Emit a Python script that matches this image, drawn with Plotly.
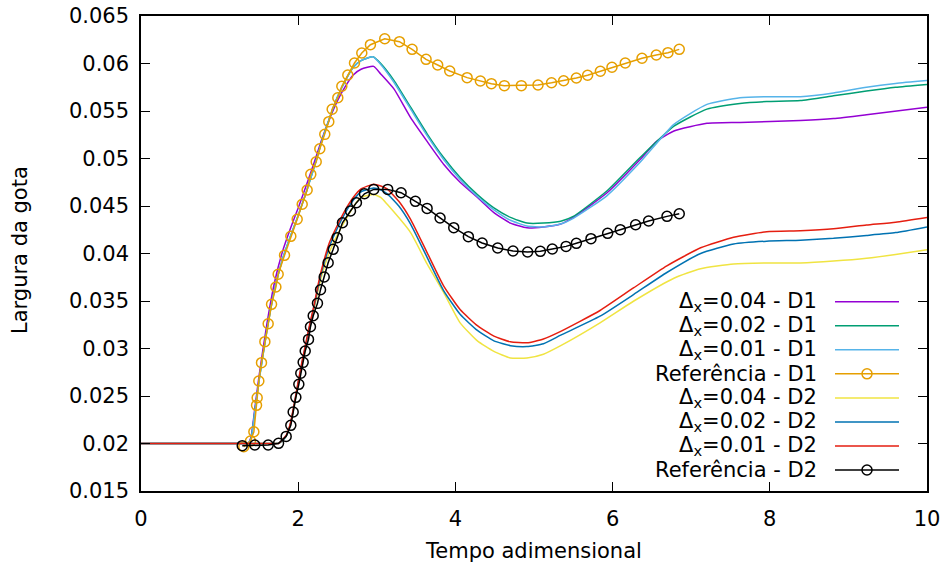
import plotly.graph_objects as go

# ---------------- data ----------------
# Simulations, drop D1
t_d1_004 = [0, 1.30, 1.36, 1.40, 1.45, 1.50, 1.60, 1.70, 1.80, 1.90, 2.00, 2.10, 2.20, 2.30, 2.40, 2.50,
            2.60, 2.70, 2.80, 2.96, 3.05, 3.22, 3.43, 3.64, 3.85, 4.06, 4.28, 4.49, 4.70, 4.91,
            5.12, 5.34, 5.50, 5.93, 6.35, 6.56, 6.78, 7.20, 7.62, 8.39, 8.81, 9.23, 10.0]
w_d1_004 = [0.0200, 0.0200, 0.0200, 0.0207, 0.0238, 0.0270, 0.0325, 0.0370, 0.0402, 0.0426, 0.0448, 0.0471,
            0.0495, 0.0520, 0.0542, 0.0561, 0.0576, 0.0588, 0.0594, 0.0597, 0.0589, 0.0573, 0.0543,
            0.0518, 0.0494, 0.0475, 0.0459, 0.0443, 0.0432, 0.0427, 0.0428, 0.0431, 0.0438, 0.0464,
            0.0499, 0.0518, 0.0529, 0.0537, 0.0538, 0.0540, 0.0542, 0.0546, 0.0554]

t_d1_002 = [0, 1.30, 1.36, 1.40, 1.45, 1.50, 1.60, 1.70, 1.80, 1.90, 2.00, 2.10, 2.20, 2.30, 2.40, 2.50,
            2.60, 2.70, 2.80, 2.95, 3.05, 3.22, 3.43, 3.64, 3.85, 4.06, 4.28, 4.49, 4.70, 4.91,
            5.12, 5.34, 5.50, 5.93, 6.35, 6.78, 7.20, 7.62, 7.96, 8.39, 8.81, 9.23, 9.60, 10.0]
w_d1_002 = [0.0200, 0.0200, 0.0200, 0.0205, 0.0235, 0.0265, 0.0318, 0.0362, 0.0394, 0.0418, 0.0440, 0.0464,
            0.0490, 0.0518, 0.0543, 0.0565, 0.0582, 0.0596, 0.0603, 0.0607, 0.0600, 0.0582, 0.0554,
            0.0526, 0.0501, 0.0480, 0.0462, 0.0448, 0.0438, 0.0432, 0.0432, 0.0434, 0.0439, 0.0466,
            0.0501, 0.0534, 0.0552, 0.0558, 0.0560, 0.0561, 0.0566, 0.0571, 0.0575, 0.0578]

t_d1_001 = [0, 1.30, 1.36, 1.40, 1.45, 1.50, 1.60, 1.70, 1.80, 1.90, 2.00, 2.10, 2.20, 2.30, 2.40, 2.50,
            2.60, 2.70, 2.80, 2.95, 3.05, 3.22, 3.43, 3.64, 3.85, 4.06, 4.28, 4.49, 4.70, 4.91,
            5.12, 5.34, 5.50, 5.93, 6.35, 6.78, 7.20, 7.62, 7.96, 8.39, 8.81, 9.23, 9.60, 10.0]
w_d1_001 = [0.0200, 0.0200, 0.0200, 0.0205, 0.0235, 0.0265, 0.0318, 0.0362, 0.0394, 0.0418, 0.0440, 0.0464,
            0.0490, 0.0518, 0.0543, 0.0565, 0.0582, 0.0596, 0.0603, 0.0607, 0.0599, 0.0580, 0.0552,
            0.0524, 0.0499, 0.0478, 0.0460, 0.0446, 0.0435, 0.0429, 0.0428, 0.0431, 0.0437, 0.0461,
            0.0496, 0.0536, 0.0557, 0.0564, 0.0565, 0.0565, 0.0569, 0.0575, 0.0579, 0.0582]

# Reference solution, drop D1
t_ref_d1 = [1.308, 1.393, 1.436, 1.470, 1.478, 1.499, 1.533, 1.576, 1.618, 1.661, 1.716, 1.745,
            1.826, 1.906, 1.987, 2.051, 2.114, 2.160, 2.229, 2.275, 2.338, 2.389, 2.432, 2.504,
            2.555, 2.631, 2.716, 2.809, 2.919, 3.101, 3.288, 3.449, 3.627, 3.775, 3.928, 4.149,
            4.318, 4.458, 4.623, 4.839, 5.051, 5.223, 5.377, 5.539, 5.682, 5.844, 5.992, 6.161,
            6.374, 6.556, 6.704, 6.848]
w_ref_d1 = [0.01966, 0.02026, 0.02124, 0.02402, 0.02482, 0.02658, 0.02851, 0.03072, 0.03261,
            0.03465, 0.03647, 0.03781, 0.03981, 0.04181, 0.04360, 0.04518, 0.04668, 0.04833,
            0.04966, 0.05103, 0.05254, 0.05388, 0.05518, 0.05640, 0.05760, 0.05879, 0.06005,
            0.06110, 0.06198, 0.06261, 0.06230, 0.06149, 0.06044, 0.05984, 0.05921, 0.05851,
            0.05816, 0.05788, 0.05767, 0.05767, 0.05774, 0.05797, 0.05819, 0.05847, 0.05876,
            0.05918, 0.05960, 0.06005, 0.06055, 0.06089, 0.06114, 0.06149]

# Simulations, drop D2
t_d2_004 = [0, 1.68, 1.75, 1.80, 1.85, 1.90, 1.95, 2.00, 2.05, 2.10, 2.15, 2.20, 2.25, 2.30, 2.40, 2.50,
            2.60, 2.70, 2.80, 2.96, 3.05, 3.13, 3.43, 3.64, 3.85, 4.06, 4.28, 4.49, 4.70, 4.91,
            5.12, 5.34, 5.84, 6.27, 6.78, 7.12, 7.54, 7.96, 8.39, 8.81, 9.23, 9.60, 10.0]
w_d2_004 = [0.0200, 0.0200, 0.0200, 0.0203, 0.0208, 0.0220, 0.0240, 0.0263, 0.0283, 0.0302, 0.0323, 0.0341,
            0.0360, 0.0377, 0.0402, 0.0420, 0.0435, 0.0449, 0.0459, 0.0462, 0.0459, 0.0452, 0.0422,
            0.0389, 0.0359, 0.0327, 0.0308, 0.0297, 0.0290, 0.0290, 0.0294, 0.0303, 0.0327, 0.0350,
            0.0374, 0.0384, 0.0389, 0.0390, 0.0390, 0.0392, 0.0395, 0.0399, 0.0404]

t_d2_002 = [0, 1.68, 1.75, 1.80, 1.85, 1.90, 1.95, 2.00, 2.05, 2.10, 2.15, 2.20, 2.25, 2.30, 2.40, 2.50,
            2.60, 2.70, 2.80, 2.96, 3.05, 3.13, 3.28, 3.43, 3.64, 3.85, 4.06, 4.28, 4.49, 4.70,
            4.91, 5.12, 5.34, 5.84, 6.27, 6.69, 7.12, 7.54, 7.96, 8.39, 8.81, 9.23, 9.60, 10.0]
w_d2_002 = [0.0200, 0.0200, 0.0200, 0.0203, 0.0208, 0.0220, 0.0241, 0.0264, 0.0285, 0.0305, 0.0325, 0.0343,
            0.0363, 0.0381, 0.0408, 0.0427, 0.0443, 0.0456, 0.0465, 0.0469, 0.0467, 0.0463, 0.0450,
            0.0431, 0.0396, 0.0361, 0.0336, 0.0319, 0.0308, 0.0303, 0.0302, 0.0305, 0.0314, 0.0334,
            0.0357, 0.0380, 0.0400, 0.0410, 0.0413, 0.0414, 0.0416, 0.0419, 0.0422, 0.0428]

t_d2_001 = [0, 1.68, 1.75, 1.80, 1.85, 1.90, 1.95, 2.00, 2.05, 2.10, 2.15, 2.20, 2.25, 2.30, 2.40, 2.50,
            2.60, 2.70, 2.80, 2.96, 3.05, 3.13, 3.28, 3.43, 3.64, 3.85, 4.06, 4.28, 4.49, 4.70,
            4.91, 5.12, 5.34, 5.84, 6.27, 6.69, 7.12, 7.54, 7.96, 8.39, 8.81, 9.23, 9.60, 10.0]
w_d2_001 = [0.0200, 0.0200, 0.0200, 0.0204, 0.0209, 0.0221, 0.0242, 0.0265, 0.0287, 0.0307, 0.0327, 0.0345,
            0.0366, 0.0384, 0.0412, 0.0430, 0.0446, 0.0459, 0.0468, 0.0473, 0.0471, 0.0468, 0.0455,
            0.0436, 0.0401, 0.0366, 0.0341, 0.0324, 0.0313, 0.0307, 0.0306, 0.0310, 0.0318, 0.0340,
            0.0364, 0.0387, 0.0406, 0.0417, 0.0423, 0.0424, 0.0426, 0.0430, 0.0433, 0.0438]

# Reference solution, drop D2
t_ref_d2 = [1.288, 1.448, 1.618, 1.750, 1.847, 1.906, 1.936, 1.970, 2.008, 2.033, 2.063, 2.089,
            2.131, 2.156, 2.191, 2.245, 2.284, 2.331, 2.381, 2.445, 2.496, 2.563, 2.665, 2.741,
            2.843, 2.961, 3.139, 3.309, 3.491, 3.640, 3.805, 3.979, 4.165, 4.340, 4.538, 4.733,
            4.919, 5.081, 5.233, 5.408, 5.539, 5.725, 5.937, 6.098, 6.293, 6.458, 6.692, 6.848]
w_ref_d2 = [0.01977, 0.01984, 0.01984, 0.02002, 0.02075, 0.02191, 0.02332, 0.02486, 0.02623,
            0.02739, 0.02854, 0.02974, 0.03096, 0.03229, 0.03345, 0.03475, 0.03619, 0.03753,
            0.03903, 0.04044, 0.04167, 0.04324, 0.04447, 0.04535, 0.04629, 0.04675, 0.04675,
            0.04640, 0.04549, 0.04475, 0.04374, 0.04272, 0.04177, 0.04110, 0.04058, 0.04026,
            0.04016, 0.04023, 0.04047, 0.04075, 0.04107, 0.04156, 0.04212, 0.04251, 0.04303,
            0.04342, 0.04391, 0.04419]

series_names = ["Δ<sub>x</sub>=0.04 - D1", "Δ<sub>x</sub>=0.02 - D1", "Δ<sub>x</sub>=0.01 - D1",
                "Referência - D1", "Δ<sub>x</sub>=0.04 - D2", "Δ<sub>x</sub>=0.02 - D2",
                "Δ<sub>x</sub>=0.01 - D2", "Referência - D2"]

x_ticks = [0, 2, 4, 6, 8, 10]
y_ticks = [0.015, 0.02, 0.025, 0.03, 0.035, 0.04, 0.045, 0.05, 0.055, 0.06, 0.065]
y_tick_text = ["0.015", "0.02", "0.025", "0.03", "0.035", "0.04", "0.045", "0.05", "0.055", "0.06", "0.065"]

# ---------------- styling ----------------
colors = ["#9400d3", "#009e73", "#56b4e9", "#e69f00", "#f0e442", "#0072b2", "#e51e10", "#000000"]
is_ref = [False, False, False, True, False, False, False, True]
xs = [t_d1_004, t_d1_002, t_d1_001, t_ref_d1, t_d2_004, t_d2_002, t_d2_001, t_ref_d2]
ys = [w_d1_004, w_d1_002, w_d1_001, w_ref_d1, w_d2_004, w_d2_002, w_d2_001, w_ref_d2]

FONT = "DejaVu Sans"
FS = 21
W, H = 947, 569
L, R, T, B = 141, 20, 16, 78

fig = go.Figure()
for name, x, y, c, ref in zip(series_names, xs, ys, colors, is_ref):
    if ref:
        fig.add_trace(go.Scatter(
            x=x, y=y, mode="lines+markers", name=name, showlegend=False,
            line=dict(color=c, width=1.5),
            marker=dict(symbol="circle-open", size=10, color=c, line=dict(color=c, width=1.5)),
        ))
    else:
        fig.add_trace(go.Scatter(
            x=x, y=y, mode="lines", name=name, showlegend=False,
            line=dict(color=c, width=1.5, shape="spline", smoothing=0.5),
        ))

# key drawn in the lower right corner: right-aligned text with the sample to its right
pw = W - L - R
ph = H - T - B
row0_px = 301.7
row_gap = 24.05
text_right_px = 819
sample_x0, sample_x1, sample_mid = 835, 899, 867
shapes = []
annotations = []
for i, (name, c, ref) in enumerate(zip(series_names, colors, is_ref)):
    ypx = row0_px + i * row_gap
    yp = (H - B - ypx) / ph
    annotations.append(dict(
        xref="paper", yref="paper", x=(text_right_px - L) / pw, y=yp,
        xanchor="right", yanchor="middle", text=name, showarrow=False,
        font=dict(family=FONT, size=FS, color="#000000"),
    ))
    shapes.append(dict(
        type="line", xref="paper", yref="paper",
        x0=(sample_x0 - L) / pw, x1=(sample_x1 - L) / pw, y0=yp, y1=yp,
        line=dict(color=c, width=1.5),
    ))
    if ref:
        shapes.append(dict(
            type="circle", xref="paper", yref="paper", xsizemode="pixel", ysizemode="pixel",
            xanchor=(sample_mid - L) / pw, yanchor=yp, x0=-5, x1=5, y0=-5, y1=5,
            line=dict(color=c, width=1.5), fillcolor="rgba(0,0,0,0)",
        ))

# axis titles
annotations.append(dict(
    xref="paper", yref="paper", x=(533.7 - L) / pw, y=-(551 - (H - B)) / ph, xanchor="center",
    yanchor="middle", text="Tempo adimensional", showarrow=False,
    font=dict(family=FONT, size=FS, color="#000000"),
))
annotations.append(dict(
    xref="paper", yref="paper", x=-(L - 20) / pw, y=(H - B - 250) / ph, xanchor="center",
    yanchor="middle", textangle=-90, text="Largura da gota", showarrow=False,
    font=dict(family=FONT, size=FS, color="#000000"),
))

axis_common = dict(
    showgrid=False, zeroline=False, showline=True, linecolor="#000000", linewidth=1.5,
    mirror="ticks", ticks="inside", ticklen=9, tickwidth=1.2, tickcolor="#000000",
    tickfont=dict(family=FONT, size=FS, color="#000000"), automargin=False,
)

fig.update_layout(
    width=W, height=H, autosize=False,
    margin=dict(l=L, r=R, t=T, b=B),
    paper_bgcolor="white", plot_bgcolor="white",
    font=dict(family=FONT, size=FS, color="#000000"),
    xaxis=dict(range=[0, 10], tickvals=x_ticks, ticktext=[str(v) for v in x_ticks],
               ticklabelstandoff=8, **axis_common),
    yaxis=dict(range=[0.015, 0.065], tickvals=y_ticks, ticktext=y_tick_text,
               ticklabelstandoff=6, **axis_common),
    shapes=shapes, annotations=annotations, showlegend=False,
)

fig.write_html("out.html")
